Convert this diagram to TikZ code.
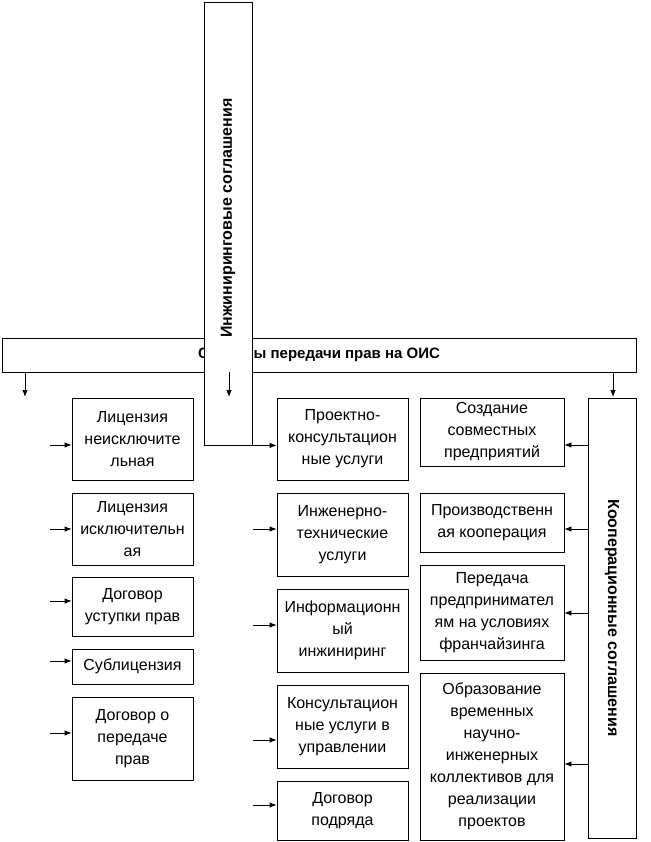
\documentclass[tikz,border=0pt]{standalone}
\usepackage{fontspec}
\setmainfont{Liberation Sans}
\usetikzlibrary{arrows.meta}
\begin{document}
\begin{tikzpicture}[x=1pt,y=-1pt,
  box/.style={draw=black,line width=0.8pt,fill=white,inner sep=0pt,align=center,
    font=\fontsize{16}{22}\selectfont},
  title/.style={font=\bfseries\fontsize{16}{18}\selectfont,inner sep=0pt},
  bartitle/.style={font=\bfseries\fontsize{15}{18}\selectfont,inner sep=0pt},
  arr/.style={line width=0.8pt,-{Latex[length=7pt,width=5.5pt]}}]
\useasboundingbox (0,0) rectangle (650,842);
% boxes: centre (x1+x2)/2, (y1+y2)/2
\newcommand{\bx}[6]{\node[box,minimum width=#4-#2,minimum height=#5-#3] (#1) at ({(#2+#4)/2},{(#3+#5)/2}) {#6};}
% top bar
\bx{bar}{2}{338}{636}{372}{}
\node[bartitle] (bartext) at (bar.center) {Способы передачи прав на ОИС};
% vertical engineering box
\bx{eng}{204}{2}{252}{445}{}
\node[title,rotate=90] (engtext) at (228,218) {Инжиниринговые соглашения};
% vertical cooperation box
\bx{coop}{588}{398}{636}{838}{}
\node[title,rotate=-90] (cooptext) at (coop.center) {Кооперационные соглашения};
% left column
\bx{l1}{72}{398}{193}{480}{Лицензия\\неисключите\\льная}
\bx{l2}{72}{493}{193}{565}{Лицензия\\исключительн\\ая}
\bx{l3}{72}{577}{193}{636}{Договор\\уступки прав}
\bx{l4}{72}{649}{193}{684}{Сублицензия}
\bx{l5}{72}{697}{193}{780}{Договор о\\передаче\\прав}
% middle column
\bx{m1}{277}{398}{408}{480}{Проектно-\\консультацион\\ные услуги}
\bx{m2}{277}{493}{408}{576}{Инженерно-\\технические\\услуги}
\bx{m3}{277}{589}{408}{672}{Информационн\\ый\\инжиниринг}
\bx{m4}{277}{685}{408}{768}{Консультацион\\ные услуги в\\управлении}
\bx{m5}{277}{781}{408}{840}{Договор\\подряда}
% right column
\bx{r1}{420}{398}{564}{466}{Создание\\совместных\\предприятий}
\bx{r2}{420}{493}{564}{552}{Производственн\\ая кооперация}
\bx{r3}{420}{565}{564}{660}{Передача\\предпринимател\\ям на условиях\\франчайзинга}
\bx{r4}{420}{673}{564}{840}{Образование\\временных\\научно-\\инженерных\\коллективов для\\реализации\\проектов}
% arrows from top bar
\coordinate (t1) at (25,397);
\coordinate (t2) at (229,397);
\coordinate (t3) at (613,397);
\draw[arr] (t1 |- bar.south) -- (t1);
\draw[arr] (t2 |- bar.south) -- (t2);
\draw[arr] (t3 |- bar.south) -- (t3);
% left column arrows
\coordinate (s1) at (50,445);
\coordinate (s2) at (50,529);
\coordinate (s3) at (50,601);
\coordinate (s4) at (50,661);
\coordinate (s5) at (50,733);
\draw[arr] (s1) -- (s1 -| l1.west);
\draw[arr] (s2) -- (s2 -| l2.west);
\draw[arr] (s3) -- (s3 -| l3.west);
\draw[arr] (s4) -- (s4 -| l4.west);
\draw[arr] (s5) -- (s5 -| l5.west);
% middle column arrows
\draw[arr] (eng.south east) -- (eng.south east -| m1.west);
\coordinate (u2) at (253,529);
\coordinate (u3) at (253,625);
\coordinate (u4) at (253,740);
\coordinate (u5) at (253,805);
\draw[arr] (u2) -- (u2 -| m2.west);
\draw[arr] (u3) -- (u3 -| m3.west);
\draw[arr] (u4) -- (u4 -| m4.west);
\draw[arr] (u5) -- (u5 -| m5.west);
% right column arrows
\coordinate (v1) at (0,445);
\coordinate (v2) at (0,529);
\coordinate (v3) at (0,613);
\coordinate (v4) at (0,764);
\draw[arr] (v1 -| coop.west) -- (v1 -| r1.east);
\draw[arr] (v2 -| coop.west) -- (v2 -| r2.east);
\draw[arr] (v3 -| coop.west) -- (v3 -| r3.east);
\draw[arr] (v4 -| coop.west) -- (v4 -| r4.east);
\end{tikzpicture}
\end{document}
